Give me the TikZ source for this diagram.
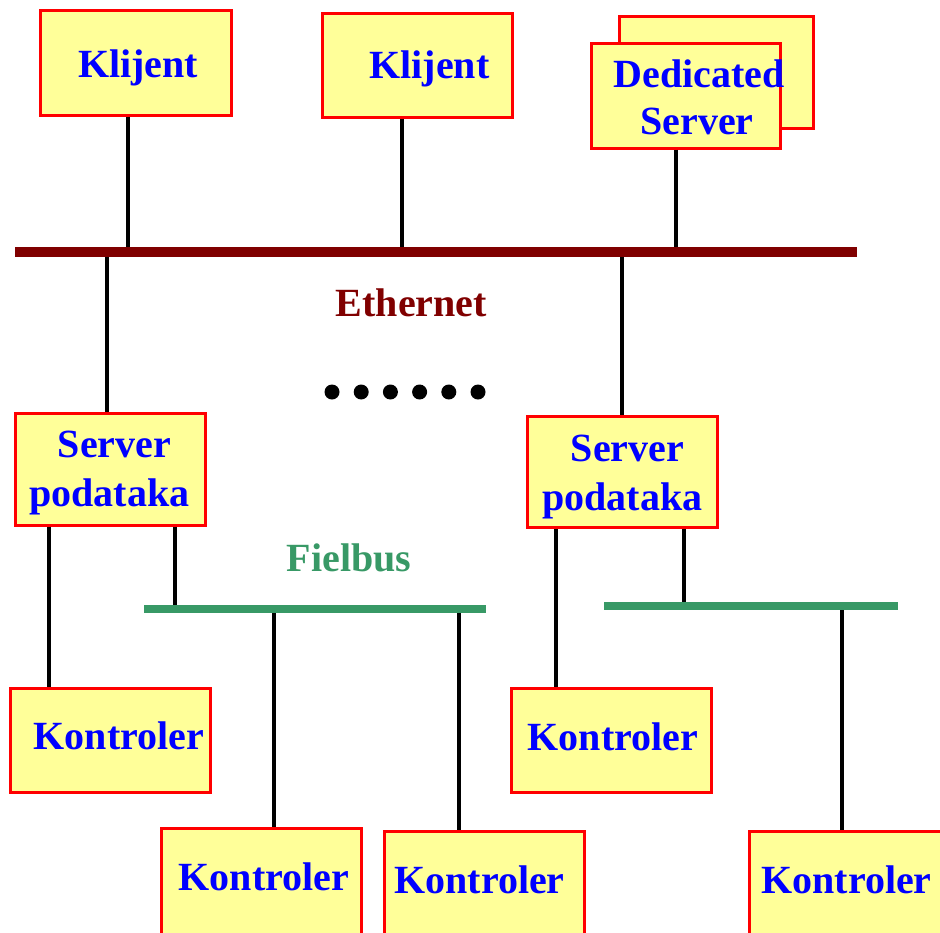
\documentclass[tikz,border=0pt]{standalone}
\usepackage{fontspec}
\setmainfont{Liberation Serif}
\definecolor{boxfill}{HTML}{FFFF99}
\definecolor{boxred}{HTML}{FF0000}
\definecolor{txtblue}{HTML}{0000FF}
\definecolor{ethred}{HTML}{800000}
\definecolor{fbgreen}{HTML}{389966}
\begin{document}
\begin{tikzpicture}[x=1pt,y=-1pt,
  box/.style={draw=boxred,fill=boxfill,line width=3pt,rectangle,inner sep=0pt},
  lbl/.style={text=txtblue,font=\fontsize{40}{48}\selectfont\bfseries,anchor=base,inner sep=0pt},
  buslbl/.style={font=\fontsize{40}{48}\selectfont\bfseries,anchor=base,inner sep=0pt},
  bus/.style={rectangle,inner sep=0pt,draw=none},
  conn/.style={line width=4pt,black},
  dot/.style={circle,fill=black,minimum size=15pt,inner sep=0pt}]
\useasboundingbox (0,0) rectangle (940,932);
\clip (0,0) rectangle (940,932);
% buses
\node[bus,fill=ethred,minimum width=842pt,minimum height=10pt] (eth) at (436,252) {};
\node[bus,fill=fbgreen,minimum width=342pt,minimum height=8pt] (fb1) at (315,609) {};
\node[bus,fill=fbgreen,minimum width=294pt,minimum height=8pt] (fb2) at (751,606) {};
\node[buslbl,text=ethred] (ethlbl) at (411.5,316) {Ethernet};
\node[buslbl,text=fbgreen] (fblbl) at (349,571) {Fielbus};
% top boxes
\node[box,minimum width=191pt,minimum height=105pt] (kl1) at (135.5,62.5) {};
\node[box,minimum width=190pt,minimum height=104pt] (kl2) at (417,65) {};
\node[box,minimum width=194pt,minimum height=112pt] (dedb) at (716,72) {};
\node[box,minimum width=189pt,minimum height=105pt] (ded) at (685.5,95.5) {};
\node[lbl] (kl1t) at (138,77) {Klijent};
\node[lbl] (kl2t) at (429.5,78) {Klijent};
\node[lbl] (dedt1) at (699,87) {Dedicated};
\node[lbl] (dedt2) at (697,134) {Server};
% servers
\node[box,minimum width=190pt,minimum height=112pt] (srv1) at (110,469) {};
\node[box,minimum width=190pt,minimum height=111pt] (srv2) at (622,471.5) {};
\node[lbl] (srv1t1) at (114.5,457) {Server};
\node[lbl] (srv1t2) at (109.5,506) {podataka};
\node[lbl] (srv2t1) at (627.5,461) {Server};
\node[lbl] (srv2t2) at (622.5,510) {podataka};
% controllers
\node[box,minimum width=200pt,minimum height=104pt] (k1) at (110,740) {};
\node[box,minimum width=200pt,minimum height=104pt] (k4) at (611,740) {};
\node[box,minimum width=200pt,minimum height=120pt] (k2) at (261,888) {};
\node[box,minimum width=200pt,minimum height=120pt] (k3) at (484,891) {};
\node[box,minimum width=200pt,minimum height=120pt] (k5) at (849,891) {};
\node[lbl] (k1t) at (119,749) {Kontroler};
\node[lbl] (k4t) at (613,750) {Kontroler};
\node[lbl] (k2t) at (264,890) {Kontroler};
\node[lbl] (k3t) at (479.5,893) {Kontroler};
\node[lbl] (k5t) at (846.5,893) {Kontroler};
% dots
\foreach \i [count=\n] in {332,361.2,390.4,419.6,448.8,478}
  \node[dot] (d\n) at (\i,392) {};
% connectors
\draw[conn] (128,0 |- kl1.south) -- (128,0 |- eth.north);
\draw[conn] (402,0 |- kl2.south) -- (402,0 |- eth.north);
\draw[conn] (676,0 |- ded.south) -- (676,0 |- eth.north);
\draw[conn] (107,0 |- eth.south) -- (107,0 |- srv1.north);
\draw[conn] (622,0 |- eth.south) -- (622,0 |- srv2.north);
\draw[conn] (49,0 |- srv1.south) -- (49,0 |- k1.north);
\draw[conn] (175,0 |- srv1.south) -- (175,0 |- fb1.north);
\draw[conn] (274,0 |- fb1.south) -- (274,0 |- k2.north);
\draw[conn] (459,0 |- fb1.south) -- (459,0 |- k3.north);
\draw[conn] (556,0 |- srv2.south) -- (556,0 |- k4.north);
\draw[conn] (684,0 |- srv2.south) -- (684,0 |- fb2.north);
\draw[conn] (842,0 |- fb2.south) -- (842,0 |- k5.north);
\end{tikzpicture}
\end{document}
